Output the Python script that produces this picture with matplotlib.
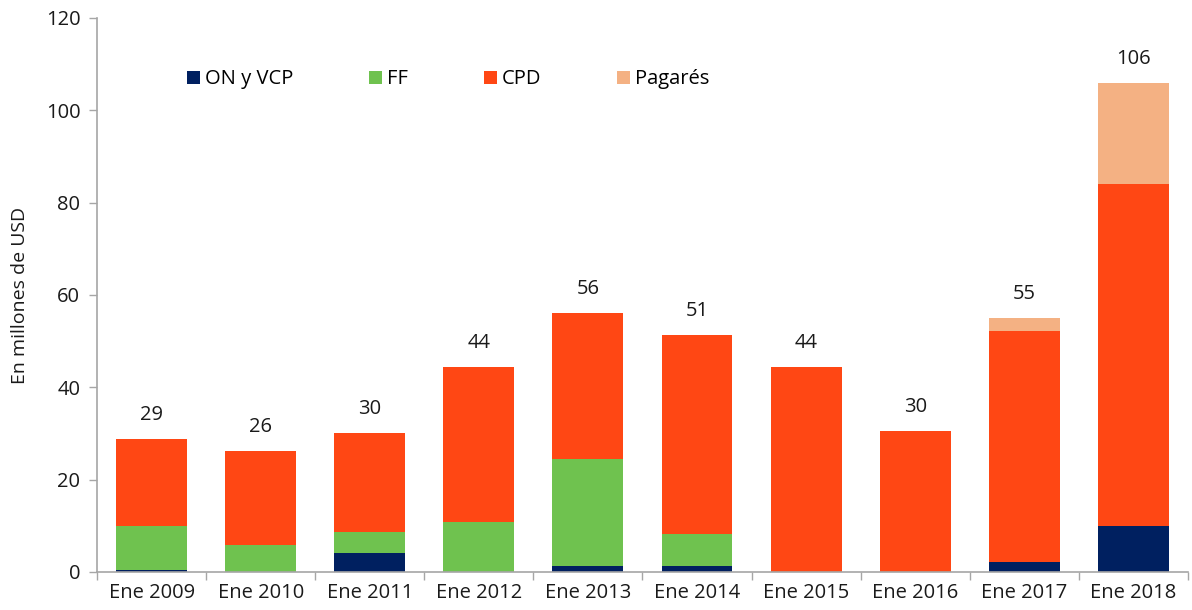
import numpy as np
import matplotlib
matplotlib.use("Agg")
import matplotlib.pyplot as plt
from matplotlib.ticker import FixedLocator, NullFormatter

plt.rcParams['font.family'] = ['Open Sans', 'DejaVu Sans']

# data (millones de USD)
categories = ["Ene 2009", "Ene 2010", "Ene 2011", "Ene 2012", "Ene 2013",
              "Ene 2014", "Ene 2015", "Ene 2016", "Ene 2017", "Ene 2018"]
on_vcp  = [0.5, 0.0, 4.1, 0.0, 1.2, 1.2, 0.0, 0.0, 2.2, 10.0]
ff      = [9.5, 5.9, 4.6, 10.8, 23.3, 7.0, 0.0, 0.0, 0.0, 0.0]
cpd     = [18.8, 20.3, 21.5, 33.6, 31.6, 43.2, 44.4, 30.5, 50.0, 74.0]
pagares = [0.0, 0.0, 0.0, 0.0, 0.0, 0.0, 0.0, 0.0, 2.8, 22.0]

series = [("ON y VCP", on_vcp, "#002060"),
          ("FF", ff, "#6FC24F"),
          ("CPD", cpd, "#FF4714"),
          ("Pagarés", pagares, "#F4B183")]

AXIS_GREY = "#A6A6A6"
TEXT = "#1A1A1A"
FS = 14.5

fig = plt.figure(figsize=(11.92, 6.10), dpi=100)
ax = fig.add_axes([0.0814, 0.0623, 0.9152, 0.9082])

x = np.arange(len(categories))
bottom = np.zeros(len(categories))
for name, vals, color in series:
    vals = np.array(vals)
    ax.bar(x, vals, width=0.65, bottom=bottom, color=color, label=name,
           linewidth=0, zorder=2)
    bottom += vals

totals = bottom
for xi, t in zip(x, totals):
    ax.annotate(f"{t:.0f}", (xi, t), xytext=(0, 10), textcoords="offset points",
                ha="center", va="bottom", fontsize=FS, color=TEXT)

ax.set_xlim(-0.5, len(categories) - 0.5)
ax.set_ylim(0, 120)
ax.set_yticks(np.arange(0, 121, 20))

# category labels centred, tick marks between categories
ax.xaxis.set_major_locator(FixedLocator(np.arange(-0.5, len(categories))))
ax.xaxis.set_major_formatter(NullFormatter())
ax.xaxis.set_minor_locator(FixedLocator(x))
ax.set_xticklabels(categories, minor=True)
ax.tick_params(axis="x", which="major", length=6, color=AXIS_GREY, width=1)
ax.tick_params(axis="x", which="minor", length=0, pad=8, labelsize=FS,
               labelcolor=TEXT)
ax.tick_params(axis="y", length=6, color=AXIS_GREY, width=1, labelsize=FS,
               labelcolor=TEXT, pad=6)

for side in ("top", "right"):
    ax.spines[side].set_visible(False)
for side in ("left", "bottom"):
    ax.spines[side].set_color(AXIS_GREY)
    ax.spines[side].set_linewidth(1.2)

ax.set_ylabel("En millones de USD", fontsize=14, color=TEXT, labelpad=12)

ax.legend(loc="upper left", bbox_to_anchor=(0.066, 0.94), ncol=4,
          frameon=False, fontsize=FS, handlelength=0.65, handleheight=0.65,
          handletextpad=0.25, columnspacing=3.75)

fig.savefig("out.png", dpi=100, facecolor="white")
